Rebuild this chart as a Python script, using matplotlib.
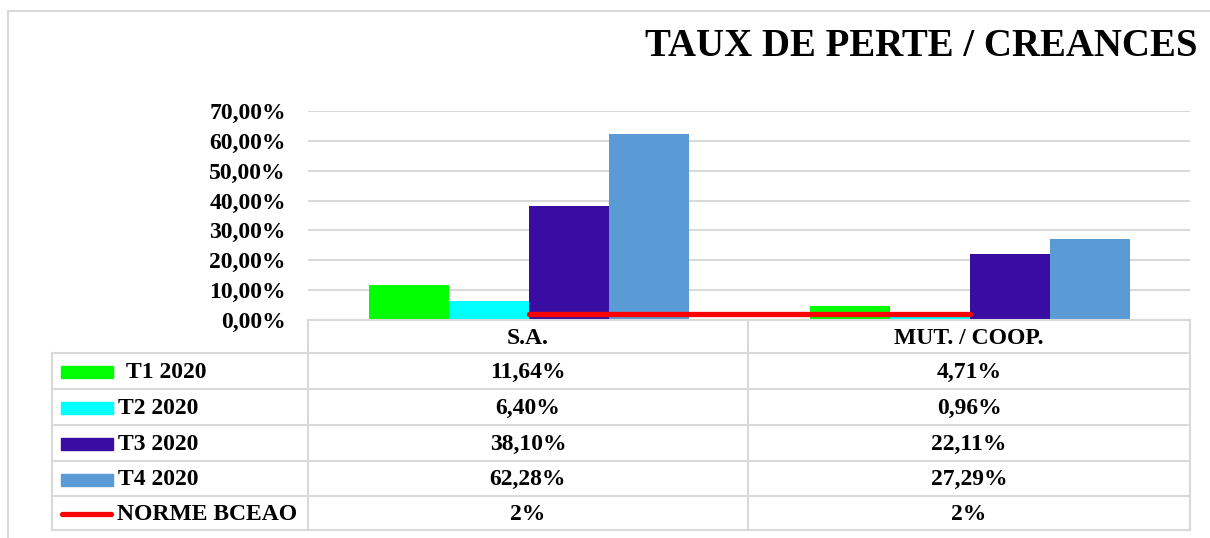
import matplotlib
matplotlib.use('Agg')

import numpy as np
import matplotlib.pyplot as plt
from matplotlib.patches import Rectangle
from matplotlib.ticker import FuncFormatter

categories = ['S.A.', 'MUT. / COOP.']
series_names = ['T1 2020', 'T2 2020', 'T3 2020', 'T4 2020']
t1_2020 = [11.64, 4.71]
t2_2020 = [6.40, 0.96]
t3_2020 = [38.10, 22.11]
t4_2020 = [62.28, 27.29]
norme_name = 'NORME BCEAO'
norme_bceao = [2, 2]
y_ticks = [0, 10, 20, 30, 40, 50, 60, 70]

colors = ['#00FF00', '#00FFFF', '#3A0DA2', '#5B9BD5']
red = '#FF0000'
grid_col = '#D9D9D9'
FONT = 'Liberation Serif'

W, H = 1210, 538


def fr(x0, y0, x1, y1):
    # pixel box (top-left origin) -> figure fraction rect
    return [x0 / W, 1 - y1 / H, (x1 - x0) / W, (y1 - y0) / H]


def pct(v, dec=2):
    s = f"{v:.{dec}f}" if dec else f"{v:g}"
    return s.replace('.', ',') + '%'


fig = plt.figure(figsize=(W / 100, H / 100), dpi=100)
fig.patch.set_facecolor('white')

# ---- bar chart ----
ax = fig.add_axes(fr(308, 111, 1190, 320))
series = [t1_2020, t2_2020, t3_2020, t4_2020]
x = np.arange(len(categories))
bw = 80 / 441
for i, vals in enumerate(series):
    ax.bar(x + (i - 1.5) * bw, vals, width=bw, color=colors[i], zorder=3)
ax.plot(x, norme_bceao, color=red, lw=3.8, solid_capstyle='round', zorder=4)

ax.set_xlim(-0.5, 1.5)
ax.set_ylim(0, 70)
ax.set_yticks(y_ticks)
ax.yaxis.set_major_formatter(FuncFormatter(lambda v, p: pct(v)))
ax.set_xticks([])
ax.tick_params(axis='y', length=0, pad=16)
for lab in ax.get_yticklabels():
    lab.set_fontfamily(FONT)
    lab.set_fontweight('bold')
    lab.set_fontsize(17)
ax.grid(axis='y', color=grid_col, lw=1.5, zorder=0)
for s in ax.spines.values():
    s.set_visible(False)

# ---- overlay for table, title and frame (pixel coords) ----
ov = fig.add_axes([0, 0, 1, 1], zorder=5)
ov.set_xlim(0, W)
ov.set_ylim(H, 0)
ov.axis('off')

# outer frame
ov.plot([8, 8], [538, 11], color=grid_col, lw=1.5)
ov.plot([8, 1210], [11, 11], color=grid_col, lw=1.5)

ov.text(645, 47, 'TAUX DE PERTE / CREANCES', fontsize=28, fontweight='bold',
        family=FONT, va='center', ha='left', color='black')

# data table
rows = [353, 389, 425, 461, 496, 530]
col_l, col_a, col_m, col_r = 52, 308, 748, 1190
tkw = dict(family=FONT, fontweight='bold', fontsize=17, va='center', color='black')

ov.plot([col_a, col_r], [320, 320], color=grid_col, lw=1.5)
for yy in rows:
    ov.plot([col_l, col_r], [yy, yy], color=grid_col, lw=1.5)
ov.plot([col_l, col_l], [rows[0], rows[-1]], color=grid_col, lw=1.5)
for xx in [col_a, col_m, col_r]:
    ov.plot([xx, xx], [320, rows[-1]], color=grid_col, lw=1.5)

centers = [(col_a + col_m) / 2, (col_m + col_r) / 2]
for cx, cat in zip(centers, categories):
    ov.text(cx, 338, cat, ha='center', **tkw)

labels = series_names + [norme_name]
all_vals = series + [norme_bceao]
for r, (lab, vals) in enumerate(zip(labels, all_vals)):
    yc = (rows[r] + rows[r + 1]) / 2 + 1
    if r < 4:
        ov.add_patch(Rectangle((61, yc - 6), 52, 12, color=colors[r]))
        tx = 126 if r == 0 else 118
    else:
        ov.plot([62, 111], [yc, yc], color=red, lw=3.8, solid_capstyle='round')
        tx = 117
    ov.text(tx, yc, lab, ha='left', **tkw)
    dec = 2 if r < 4 else 0
    for cx, v in zip(centers, vals):
        ov.text(cx, yc, pct(v, dec), ha='center', **tkw)

fig.savefig('out.png', dpi=100, facecolor='white')
